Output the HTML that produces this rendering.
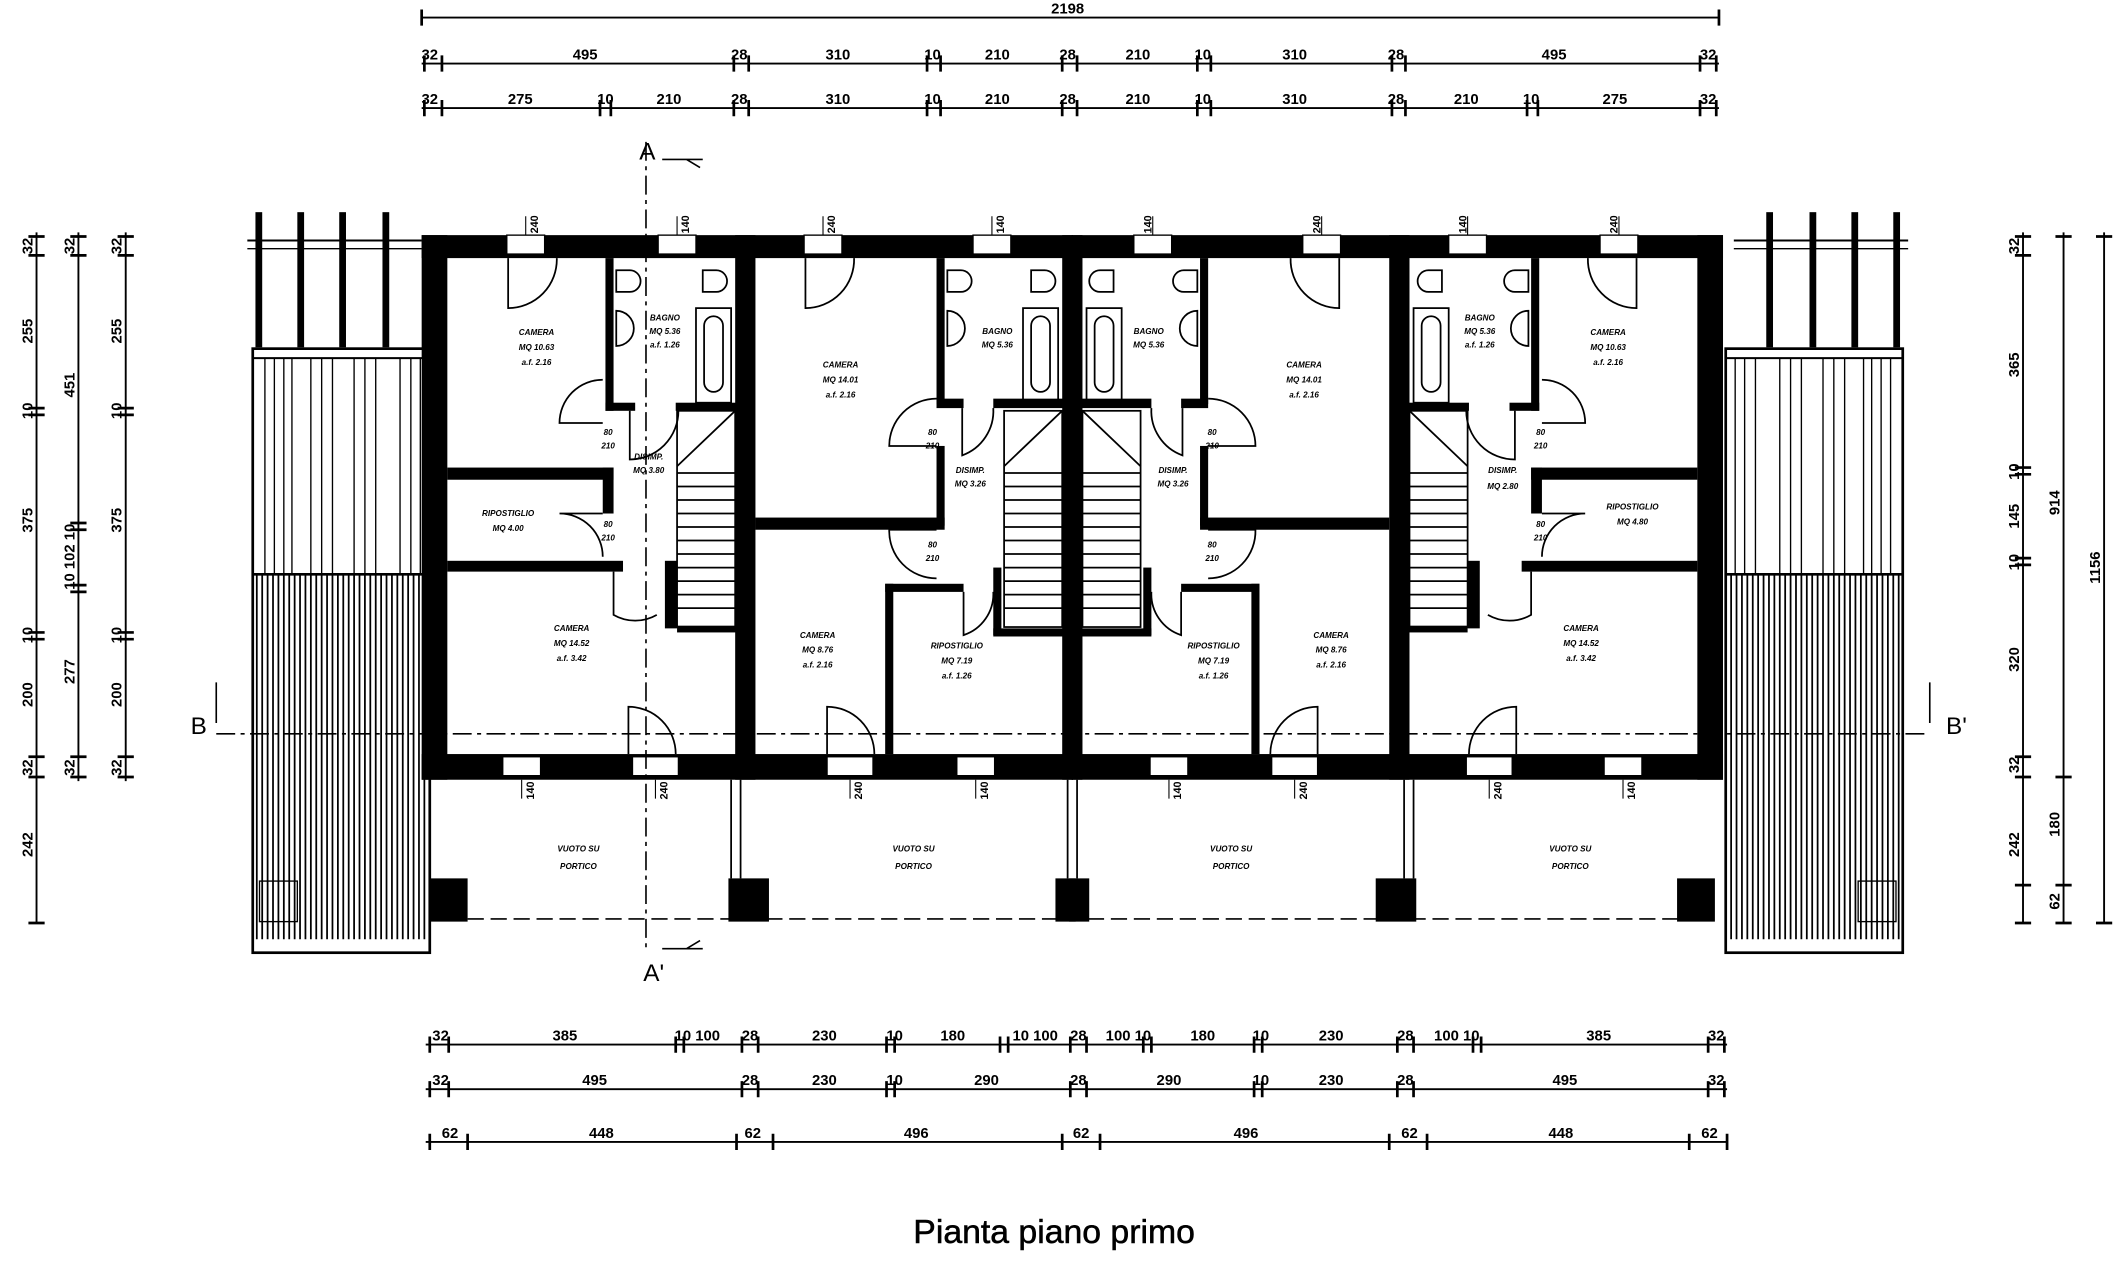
<!DOCTYPE html>
<html><head><meta charset="utf-8"><style>
html,body{margin:0;padding:0;background:#fff;}
svg{display:block}
text{font-family:"Liberation Sans",sans-serif;fill:#000;}
.d{font-size:11px;font-weight:bold;text-anchor:middle}
.s{font-size:6px;font-weight:bold;text-anchor:middle;font-style:italic}
.w{font-size:8px;font-weight:bold;text-anchor:middle}
</style></head><body>
<svg width="2119" height="1275" viewBox="0 0 1568 943.5" xmlns="http://www.w3.org/2000/svg">
<rect width="1568" height="943.5" fill="#fff"/>
<g stroke="#000" stroke-width="1.4" fill="none">
<line x1="312" y1="13" x2="1272" y2="13"/>
<line x1="312" y1="47" x2="1272" y2="47"/>
<line x1="312" y1="80" x2="1272" y2="80"/>
<line x1="315" y1="773" x2="1278" y2="773"/>
<line x1="315" y1="806" x2="1278" y2="806"/>
<line x1="315" y1="845" x2="1278" y2="845"/>
<line x1="27" y1="172" x2="27" y2="683"/>
<line x1="58" y1="172" x2="58" y2="578"/>
<line x1="93" y1="172" x2="93" y2="578"/>
<line x1="1497" y1="172" x2="1497" y2="683"/>
<line x1="1527" y1="172" x2="1527" y2="683"/>
<line x1="1557" y1="172" x2="1557" y2="683"/>
</g>
<g stroke="#000" stroke-width="2">
<path d="M312 7v12M1272 7v12"/>
<path d="M314 41v12M327 41v12M543 41v12M554 41v12M686 41v12M696 41v12M786 41v12M797 41v12M886 41v12M896 41v12M1030 41v12M1040 41v12M1258 41v12M1270 41v12"/>
<path d="M314 74v12M327 74v12M444 74v12M452 74v12M543 74v12M554 74v12M686 74v12M696 74v12M786 74v12M797 74v12M886 74v12M896 74v12M1030 74v12M1040 74v12M1130 74v12M1138 74v12M1258 74v12M1270 74v12"/>
<path d="M318 767v12M332 767v12M500 767v12M506 767v12M549 767v12M561 767v12M656 767v12M662 767v12M740 767v12M746 767v12M792 767v12M804 767v12M846 767v12M852 767v12M928 767v12M934 767v12M1034 767v12M1046 767v12M1090 767v12M1096 767v12M1264 767v12M1276 767v12"/>
<path d="M318 800v12M332 800v12M549 800v12M561 800v12M656 800v12M662 800v12M792 800v12M804 800v12M928 800v12M934 800v12M1034 800v12M1046 800v12M1264 800v12M1276 800v12"/>
<path d="M318 839v12M346 839v12M545 839v12M572 839v12M786 839v12M814 839v12M1028 839v12M1056 839v12M1250 839v12M1278 839v12"/>
<path d="M21 175h12M21 189h12M21 302h12M21 307h12M21 468h12M21 473h12M21 560h12M21 575h12M21 683h12"/>
<path d="M52 175h12M52 189h12M52 387h12M52 392h12M52 433h12M52 438h12M52 560h12M52 575h12"/>
<path d="M87 175h12M87 189h12M87 302h12M87 307h12M87 468h12M87 473h12M87 560h12M87 575h12"/>
<path d="M1491 175h12M1491 189h12M1491 346h12M1491 351h12M1491 413h12M1491 418h12M1491 560h12M1491 575h12M1491 655h12M1491 683h12"/>
<path d="M1521 175h12M1521 575h12M1521 655h12M1521 683h12M1551 175h12M1551 683h12"/>
</g>
<g class="d">
<text x="790" y="10" class="d">2198</text>
<text x="318" y="44" class="d">32</text><text x="433" y="44" class="d">495</text><text x="547" y="44" class="d">28</text><text x="620" y="44" class="d">310</text><text x="690" y="44" class="d">10</text><text x="738" y="44" class="d">210</text><text x="790" y="44" class="d">28</text><text x="842" y="44" class="d">210</text><text x="890" y="44" class="d">10</text><text x="958" y="44" class="d">310</text><text x="1033" y="44" class="d">28</text><text x="1150" y="44" class="d">495</text><text x="1264" y="44" class="d">32</text>
<text x="318" y="77" class="d">32</text><text x="385" y="77" class="d">275</text><text x="448" y="77" class="d">10</text><text x="495" y="77" class="d">210</text><text x="547" y="77" class="d">28</text><text x="620" y="77" class="d">310</text><text x="690" y="77" class="d">10</text><text x="738" y="77" class="d">210</text><text x="790" y="77" class="d">28</text><text x="842" y="77" class="d">210</text><text x="890" y="77" class="d">10</text><text x="958" y="77" class="d">310</text><text x="1033" y="77" class="d">28</text><text x="1085" y="77" class="d">210</text><text x="1133" y="77" class="d">10</text><text x="1195" y="77" class="d">275</text><text x="1264" y="77" class="d">32</text>
<text x="326" y="770" class="d">32</text><text x="418" y="770" class="d">385</text><text x="516" y="770" class="d">10 100</text><text x="555" y="770" class="d">28</text><text x="610" y="770" class="d">230</text><text x="662" y="770" class="d">10</text><text x="705" y="770" class="d">180</text><text x="766" y="770" class="d">10 100</text><text x="798" y="770" class="d">28</text><text x="835" y="770" class="d">100 10</text><text x="890" y="770" class="d">180</text><text x="933" y="770" class="d">10</text><text x="985" y="770" class="d">230</text><text x="1040" y="770" class="d">28</text><text x="1078" y="770" class="d">100 10</text><text x="1183" y="770" class="d">385</text><text x="1270" y="770" class="d">32</text>
<text x="326" y="803" class="d">32</text><text x="440" y="803" class="d">495</text><text x="555" y="803" class="d">28</text><text x="610" y="803" class="d">230</text><text x="662" y="803" class="d">10</text><text x="730" y="803" class="d">290</text><text x="798" y="803" class="d">28</text><text x="865" y="803" class="d">290</text><text x="933" y="803" class="d">10</text><text x="985" y="803" class="d">230</text><text x="1040" y="803" class="d">28</text><text x="1158" y="803" class="d">495</text><text x="1270" y="803" class="d">32</text>
<text x="333" y="842" class="d">62</text><text x="445" y="842" class="d">448</text><text x="557" y="842" class="d">62</text><text x="678" y="842" class="d">496</text><text x="800" y="842" class="d">62</text><text x="922" y="842" class="d">496</text><text x="1043" y="842" class="d">62</text><text x="1155" y="842" class="d">448</text><text x="1265" y="842" class="d">62</text>
</g>
<g class="d">
<text transform="translate(24,182) rotate(-90)">32</text><text transform="translate(24,245) rotate(-90)">255</text><text transform="translate(24,304) rotate(-90)">10</text><text transform="translate(24,385) rotate(-90)">375</text><text transform="translate(24,470) rotate(-90)">10</text><text transform="translate(24,514) rotate(-90)">200</text><text transform="translate(24,568) rotate(-90)">32</text><text transform="translate(24,625) rotate(-90)">242</text>
<text transform="translate(55,182) rotate(-90)">32</text><text transform="translate(55,285) rotate(-90)">451</text><text transform="translate(55,412) rotate(-90)">10 102 10</text><text transform="translate(55,497) rotate(-90)">277</text><text transform="translate(55,568) rotate(-90)">32</text>
<text transform="translate(90,182) rotate(-90)">32</text><text transform="translate(90,245) rotate(-90)">255</text><text transform="translate(90,304) rotate(-90)">10</text><text transform="translate(90,385) rotate(-90)">375</text><text transform="translate(90,470) rotate(-90)">10</text><text transform="translate(90,514) rotate(-90)">200</text><text transform="translate(90,568) rotate(-90)">32</text>
<text transform="translate(1494,182) rotate(-90)">32</text><text transform="translate(1494,270) rotate(-90)">365</text><text transform="translate(1494,349) rotate(-90)">10</text><text transform="translate(1494,382) rotate(-90)">145</text><text transform="translate(1494,416) rotate(-90)">10</text><text transform="translate(1494,488) rotate(-90)">320</text><text transform="translate(1494,566) rotate(-90)">32</text><text transform="translate(1494,625) rotate(-90)">242</text>
<text transform="translate(1524,372) rotate(-90)">914</text><text transform="translate(1524,610) rotate(-90)">180</text><text transform="translate(1524,667) rotate(-90)">62</text>
<text transform="translate(1554,420) rotate(-90)">1156</text>
</g>

<g id="perg" stroke="#000" fill="none">
<rect x="187" y="258" width="131" height="447" stroke-width="2"/>
<line x1="187" y1="265" x2="318" y2="265" stroke-width="1.5"/>
<line x1="183" y1="178" x2="312" y2="178" stroke-width="1.5"/>
<line x1="183" y1="184" x2="312" y2="184" stroke-width="1"/>
<rect x="189" y="157" width="5" height="100" fill="#000" stroke="none"/>
<rect x="220" y="157" width="5" height="100" fill="#000" stroke="none"/>
<rect x="251" y="157" width="5" height="100" fill="#000" stroke="none"/>
<rect x="283" y="157" width="5" height="100" fill="#000" stroke="none"/>
<path d="M196 265v160M203 265v160M210 265v160M216 265v160M230 265v160M238 265v160M246 265v160M262 265v160M270 265v160M278 265v160M296 265v160M304 265v160M311 265v160" stroke-width="1"/>
<path d="M190 425v270M194 425v270M198 425v270M202 425v270M206 425v270M210 425v270M214 425v270M218 425v270M222 425v270M226 425v270M230 425v270M234 425v270M238 425v270M242 425v270M246 425v270M250 425v270M254 425v270M258 425v270M262 425v270M266 425v270M270 425v270M274 425v270M278 425v270M282 425v270M286 425v270M290 425v270M294 425v270M298 425v270M302 425v270M306 425v270M310 425v270M314 425v270" stroke-width="1.3"/>
<line x1="187" y1="425" x2="318" y2="425" stroke-width="2"/>
<rect x="192" y="652" width="28" height="30" stroke-width="1"/>
</g>
<use href="#perg" transform="translate(1595,0) scale(-1,1)"/>

<g id="half">
<g fill="#000">
<rect x="312" y="174" width="482" height="17"/>
<rect x="312" y="174" width="19" height="403"/>
<rect x="312" y="558" width="482" height="19"/>
<rect x="544" y="174" width="15" height="403"/>
<rect x="786" y="174" width="8" height="403"/>
<rect x="448" y="191" width="6" height="113"/>
<rect x="448" y="298" width="22" height="6"/>
<rect x="500" y="298" width="45" height="6"/>
<rect x="331" y="346" width="123" height="9"/>
<rect x="446" y="346" width="8" height="34"/>
<rect x="331" y="415" width="130" height="8"/>
<rect x="492" y="415" width="9" height="50"/>
<rect x="501" y="463" width="45" height="5"/>
<rect x="693" y="191" width="6" height="108"/>
<rect x="693" y="295" width="20" height="7"/>
<rect x="735" y="295" width="52" height="7"/>
<rect x="693" y="330" width="6" height="59"/>
<rect x="559" y="383" width="140" height="9"/>
<rect x="655" y="432" width="58" height="6"/>
<rect x="655" y="432" width="6" height="126"/>
<rect x="735" y="420" width="6" height="50"/>
<rect x="735" y="465" width="52" height="6"/>
<rect x="375" y="174" width="28" height="14" fill="#fff" stroke="#000"/>
<rect x="487" y="174" width="28" height="14" fill="#fff" stroke="#000"/>
<rect x="595" y="174" width="28" height="14" fill="#fff" stroke="#000"/>
<rect x="720" y="174" width="28" height="14" fill="#fff" stroke="#000"/>
<rect x="372" y="560" width="28" height="14" fill="#fff" stroke="#000"/>
<rect x="468" y="560" width="34" height="14" fill="#fff" stroke="#000"/>
<rect x="612" y="560" width="34" height="14" fill="#fff" stroke="#000"/>
<rect x="708" y="560" width="28" height="14" fill="#fff" stroke="#000"/>
<rect x="318" y="650" width="28" height="32"/>
<rect x="539" y="650" width="30" height="32"/>
<rect x="781" y="650" width="15" height="32"/>
</g>
<g fill="none" stroke="#000" stroke-width="1.3">
<line x1="541" y1="577" x2="541" y2="650"/><line x1="548" y1="577" x2="548" y2="650"/>
<line x1="790" y1="577" x2="790" y2="650"/>
<path d="M376 191v37a36 36 0 0 0 36-37"/>
<path d="M596 191v37a36 36 0 0 0 36-37"/>
<path d="M466 304v36a36 36 0 0 0 36-36"/>
<path d="M446 313h-32a32 32 0 0 1 32-32"/>
<path d="M446 380h-32a32 32 0 0 1 32 32"/>
<path d="M454 423v32a32 32 0 0 0 32 0"/>
<path d="M465 558v-35a35 35 0 0 1 35 35"/>
<path d="M612 558v-35a35 35 0 0 1 35 35"/>
<path d="M693 330h-35a35 35 0 0 1 35-35"/>
<path d="M693 392h-35a35 35 0 0 0 35 36"/>
<path d="M712 302v35a35 35 0 0 0 23-35"/>
<path d="M713 438v32a32 32 0 0 0 22-32"/>
<rect x="515" y="228" width="26" height="70"/><rect x="521" y="234" width="14" height="56" rx="7"/>
<path d="M456 200h10a8 8 0 0 1 0 16h-10z"/>
<path d="M520 200h10a8 8 0 0 1 0 16h-10z"/>
<path d="M456 230a12 12 0 0 1 0 26z"/>
<rect x="757" y="228" width="26" height="70"/><rect x="763" y="234" width="14" height="56" rx="7"/>
<path d="M701 200h10a8 8 0 0 1 0 16h-10z"/>
<path d="M763 200h10a8 8 0 0 1 0 16h-10z"/>
<path d="M701 230a12 12 0 0 1 0 26z"/>
<rect x="501" y="304" width="43" height="160"/>
<line x1="501" y1="345" x2="544" y2="304"/>
<path d="M501 350h43M501 360h43M501 370h43M501 380h43M501 390h43M501 400h43M501 410h43M501 420h43M501 430h43M501 440h43M501 450h43"/>
<rect x="743" y="304" width="43" height="160"/>
<line x1="743" y1="345" x2="786" y2="304"/>
<path d="M743 350h43M743 360h43M743 370h43M743 380h43M743 390h43M743 400h43M743 410h43M743 420h43M743 430h43M743 440h43M743 450h43"/>
<path d="M389 160v14M501 160v14M609 160v14M734 160v14M386 577v14M485 577v14M629 577v14M722 577v14" stroke-width="0.8"/>
</g>
</g>
<use href="#half" transform="translate(1587,0) scale(-1,1)"/>

<g class="w">
<text transform="translate(398,166) rotate(-90)">240</text><text transform="translate(510,166) rotate(-90)">140</text>
<text transform="translate(618,166) rotate(-90)">240</text><text transform="translate(743,166) rotate(-90)">140</text>
<text transform="translate(852,166) rotate(-90)">140</text><text transform="translate(977,166) rotate(-90)">240</text>
<text transform="translate(1085,166) rotate(-90)">140</text><text transform="translate(1197,166) rotate(-90)">240</text>
<text transform="translate(395,585) rotate(-90)">140</text><text transform="translate(494,585) rotate(-90)">240</text>
<text transform="translate(638,585) rotate(-90)">240</text><text transform="translate(731,585) rotate(-90)">140</text>
<text transform="translate(874,585) rotate(-90)">140</text><text transform="translate(967,585) rotate(-90)">240</text>
<text transform="translate(1111,585) rotate(-90)">240</text><text transform="translate(1210,585) rotate(-90)">140</text>
</g>

<g stroke="#000" fill="none" stroke-width="1.2">
<line x1="346" y1="680" x2="1250" y2="680" stroke-dasharray="12 5"/>
<line x1="160" y1="543" x2="1425" y2="543" stroke-dasharray="14 4 3 4"/>
<line x1="478" y1="105" x2="478" y2="705" stroke-dasharray="14 4 3 4"/>
<path d="M490 118h30M508 118l10 6M490 702h30M508 702l10-6M160 505v30M1428 505v30"/>
</g>
<g font-size="18" font-family="Liberation Sans">
<text x="473" y="118">A</text><text x="476" y="726">A'</text>
<text x="141" y="543">B</text><text x="1440" y="543">B'</text>
</g>
<g class="s">
<text x="397" y="248">CAMERA</text><text x="397" y="259">MQ 10.63</text><text x="397" y="270">a.f. 2.16</text>
<text x="1190" y="248">CAMERA</text><text x="1190" y="259">MQ 10.63</text><text x="1190" y="270">a.f. 2.16</text>
<text x="622" y="272">CAMERA</text><text x="622" y="283">MQ 14.01</text><text x="622" y="294">a.f. 2.16</text>
<text x="965" y="272">CAMERA</text><text x="965" y="283">MQ 14.01</text><text x="965" y="294">a.f. 2.16</text>
<text x="492" y="237">BAGNO</text><text x="492" y="247">MQ 5.36</text><text x="492" y="257">a.f. 1.26</text>
<text x="1095" y="237">BAGNO</text><text x="1095" y="247">MQ 5.36</text><text x="1095" y="257">a.f. 1.26</text>
<text x="738" y="247">BAGNO</text><text x="738" y="257">MQ 5.36</text>
<text x="850" y="247">BAGNO</text><text x="850" y="257">MQ 5.36</text>
<text x="376" y="382">RIPOSTIGLIO</text><text x="376" y="393">MQ 4.00</text>
<text x="1208" y="377">RIPOSTIGLIO</text><text x="1208" y="388">MQ 4.80</text>
<text x="480" y="340">DISIMP.</text><text x="480" y="350">MQ 3.80</text>
<text x="718" y="350">DISIMP.</text><text x="718" y="360">MQ 3.26</text>
<text x="868" y="350">DISIMP.</text><text x="868" y="360">MQ 3.26</text>
<text x="1112" y="350">DISIMP.</text><text x="1112" y="362">MQ 2.80</text>
<text x="423" y="467">CAMERA</text><text x="423" y="478">MQ 14.52</text><text x="423" y="489">a.f. 3.42</text>
<text x="1170" y="467">CAMERA</text><text x="1170" y="478">MQ 14.52</text><text x="1170" y="489">a.f. 3.42</text>
<text x="605" y="472">CAMERA</text><text x="605" y="483">MQ 8.76</text><text x="605" y="494">a.f. 2.16</text>
<text x="985" y="472">CAMERA</text><text x="985" y="483">MQ 8.76</text><text x="985" y="494">a.f. 2.16</text>
<text x="708" y="480">RIPOSTIGLIO</text><text x="708" y="491">MQ 7.19</text><text x="708" y="502">a.f. 1.26</text>
<text x="898" y="480">RIPOSTIGLIO</text><text x="898" y="491">MQ 7.19</text><text x="898" y="502">a.f. 1.26</text>
<text x="428" y="630">VUOTO SU</text><text x="428" y="643">PORTICO</text>
<text x="676" y="630">VUOTO SU</text><text x="676" y="643">PORTICO</text>
<text x="911" y="630">VUOTO SU</text><text x="911" y="643">PORTICO</text>
<text x="1162" y="630">VUOTO SU</text><text x="1162" y="643">PORTICO</text>
<text x="450" y="322">80</text><text x="450" y="332">210</text>
<text x="450" y="390">80</text><text x="450" y="400">210</text>
<text x="690" y="322">80</text><text x="690" y="332">210</text>
<text x="690" y="405">80</text><text x="690" y="415">210</text>
<text x="897" y="322">80</text><text x="897" y="332">210</text>
<text x="897" y="405">80</text><text x="897" y="415">210</text>
<text x="1140" y="322">80</text><text x="1140" y="332">210</text>
<text x="1140" y="390">80</text><text x="1140" y="400">210</text>
</g>
<text x="780" y="920" font-size="25" text-anchor="middle" font-family="Liberation Sans" stroke="#000" stroke-width="0.4">Pianta piano primo</text>
</svg>
</body></html>
